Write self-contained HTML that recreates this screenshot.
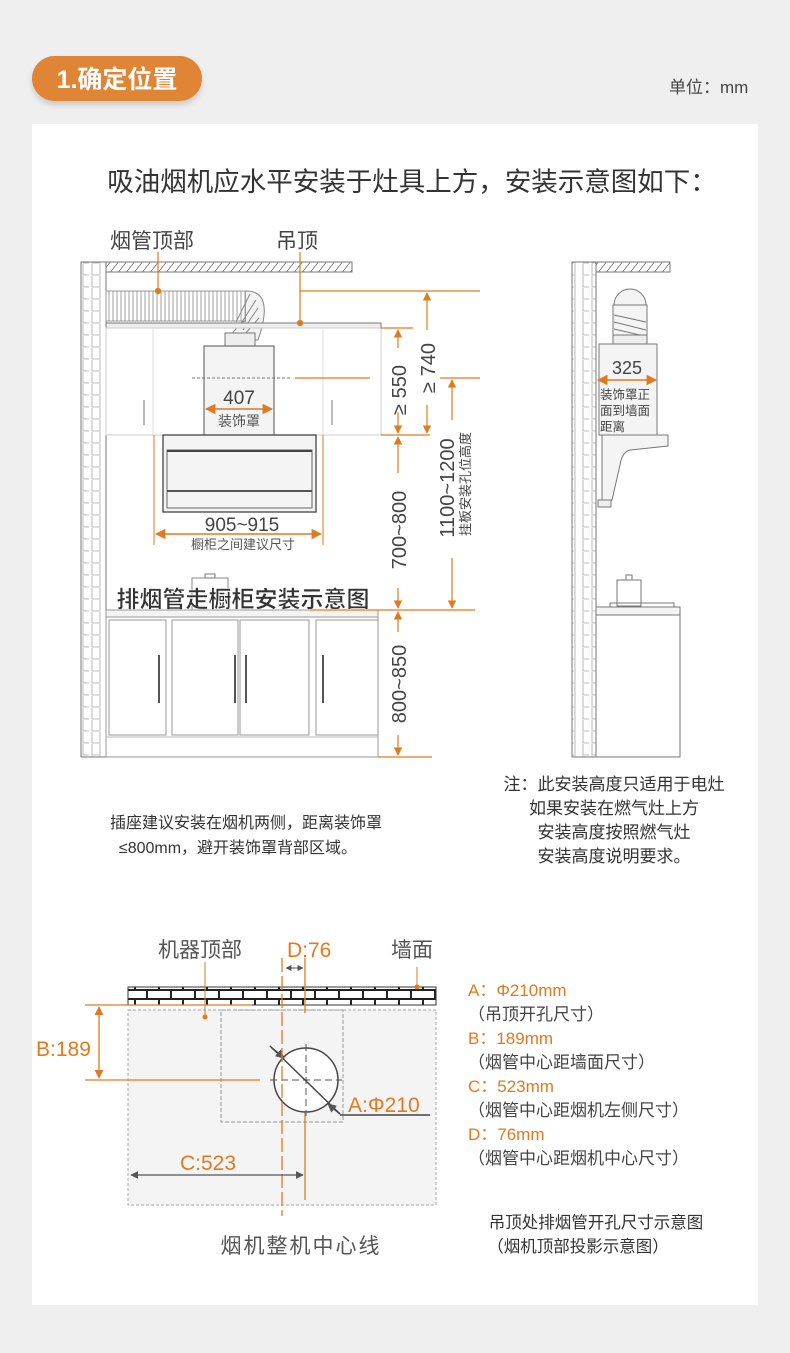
<!DOCTYPE html>
<html><head><meta charset="utf-8"><style>
body{margin:0;background:#efefef;}
svg{display:block;}
text{font-family:"Liberation Sans","Noto Sans CJK SC",sans-serif;}
</style></head><body>
<svg width="790" height="1353" viewBox="0 0 790 1353" xmlns="http://www.w3.org/2000/svg">
<defs>
<pattern id="brick" width="25" height="12" patternUnits="userSpaceOnUse">
<path d="M0 0V12M8 0V11H14M17 0V11H24M25 0V12" stroke="#a8a8a8" stroke-width="0.8" fill="none"/>
</pattern>
<pattern id="hatch" width="8" height="10" patternUnits="userSpaceOnUse">
<path d="M0 10L8 0" stroke="#777" stroke-width="0.8"/>
</pattern>
<pattern id="rib" width="4" height="30" patternUnits="userSpaceOnUse">
<path d="M1 0V30" stroke="#888" stroke-width="0.8"/>
</pattern>
<pattern id="bw" width="24" height="18" patternUnits="userSpaceOnUse">
<rect width="24" height="18" fill="#fff"/>
<path d="M0 0H24M0 9H24M0 18H24M3 0V9M15 9V18" stroke="#222" stroke-width="2"/>
</pattern>
<marker id="ao" viewBox="0 0 10 10" refX="9" refY="5" markerWidth="7" markerHeight="7" orient="auto-start-reverse"><path d="M0 0L10 5L0 10z" fill="#e07a1f"/></marker>
<marker id="ag" viewBox="0 0 10 10" refX="9" refY="5" markerWidth="6" markerHeight="6" orient="auto-start-reverse"><path d="M0 0L10 5L0 10z" fill="#555"/></marker>
<filter id="sh" x="-10%" y="-20%" width="120%" height="160%"><feDropShadow dx="0" dy="4" stdDeviation="3" flood-color="#000" flood-opacity="0.15"/></filter>
</defs>
<rect x="32" y="56" width="170" height="45" rx="22.5" fill="#e08434" filter="url(#sh)"/>
<text x="117" y="88" font-size="25" font-weight="bold" fill="#fff" text-anchor="middle">1.确定位置</text>
<text x="669" y="93" font-size="17" fill="#444">单位：mm</text>
<rect x="32" y="124" width="726" height="1181" fill="#fff"/>
<text x="412" y="191" font-size="26.5" fill="#333" text-anchor="middle">吸油烟机应水平安装于灶具上方，安装示意图如下：</text>

<g stroke="#777" fill="none" stroke-width="1">
<rect x="81" y="262" width="25" height="495" fill="url(#brick)"/>
<rect x="106" y="262" width="246" height="10" fill="url(#hatch)"/>
<rect x="106" y="291" width="140" height="30" fill="url(#rib)" stroke="#999"/>
<path d="M246 291 Q275 291 258 340 L228 340 Q240 321 246 321" fill="#f3f3f3" stroke="#888"/>
<path d="M250 294L236 322M256 300L240 325M258 308L243 330M259 318L245 334" stroke="#888"/>
<rect x="225" y="333" width="30" height="13" fill="#eee"/>
<rect x="106" y="323" width="275" height="5" fill="#eee"/>
<rect x="106" y="328" width="275" height="107" stroke="#ccc"/>
<line x1="153" y1="328" x2="153" y2="435" stroke="#ddd"/>
<line x1="323" y1="328" x2="323" y2="435" stroke="#ddd"/>
<line x1="144" y1="400" x2="144" y2="425" stroke="#bbb" stroke-width="2"/>
<line x1="332" y1="400" x2="332" y2="425" stroke="#bbb" stroke-width="2"/>
<rect x="204" y="346" width="70" height="89" fill="#f4f4f4" stroke="#555"/>
<rect x="163" y="435" width="153" height="77" fill="#f4f4f4" stroke="#444" stroke-width="1.3"/>
<rect x="167" y="450" width="145" height="58" stroke="#666"/>
<line x1="167" y1="451" x2="312" y2="451" stroke="#444" stroke-width="2"/>
<line x1="167" y1="491" x2="312" y2="491" stroke="#555" stroke-width="2"/>
<line x1="154" y1="435" x2="154" y2="545" stroke="#e07a1f"/>
<line x1="323" y1="435" x2="323" y2="545" stroke="#e07a1f"/>
<rect x="192" y="578" width="36" height="32" fill="#fff" stroke="#888"/>
<rect x="205" y="574" width="10" height="4"/>
<rect x="106" y="610" width="272" height="7" fill="#f4f4f4" stroke="#999"/>
<rect x="106" y="617" width="272" height="140" stroke="#999"/>
<rect x="109" y="620" width="57" height="115" stroke="#999"/>
<rect x="172" y="620" width="66" height="115" stroke="#999"/>
<rect x="240" y="620" width="69" height="115" stroke="#999"/>
<rect x="316" y="620" width="62" height="115" stroke="#999"/>
<line x1="106" y1="737" x2="378" y2="737" stroke="#bbb"/>
<g stroke="#555" stroke-width="2"><line x1="159" y1="655" x2="159" y2="703"/><line x1="235" y1="655" x2="235" y2="703"/><line x1="246" y1="655" x2="246" y2="703"/><line x1="323" y1="655" x2="323" y2="703"/></g>
</g>
<line x1="192" y1="378" x2="290" y2="378" stroke="#777" stroke-dasharray="3 2"/>
<text x="239" y="404" font-size="19" fill="#444" text-anchor="middle">407</text>
<text x="239" y="426" font-size="14" fill="#555" text-anchor="middle">装饰罩</text>
<line x1="206" y1="409" x2="272" y2="409" stroke="#e07a1f" stroke-width="1.5" marker-start="url(#ao)" marker-end="url(#ao)"/>
<text x="242" y="531" font-size="19" fill="#444" text-anchor="middle">905~915</text>
<line x1="156" y1="534" x2="321" y2="534" stroke="#e07a1f" stroke-width="1.5" marker-start="url(#ao)" marker-end="url(#ao)"/>
<text x="243" y="549" font-size="13" fill="#555" text-anchor="middle">橱柜之间建议尺寸</text>
<g stroke="#e07a1f" stroke-width="1.2" fill="none">
<line x1="158" y1="252" x2="158" y2="291"/><circle cx="158" cy="291" r="2.5" fill="#e07a1f"/>
<line x1="300" y1="252" x2="300" y2="323"/><circle cx="300" cy="323" r="2.5" fill="#e07a1f"/>
<line x1="300" y1="291" x2="480" y2="291"/>
<line x1="381" y1="328" x2="413" y2="328"/>
<line x1="295" y1="378" x2="370" y2="378"/>
<line x1="440" y1="378" x2="480" y2="378"/>
<line x1="381" y1="435" x2="430" y2="435"/>
<line x1="310" y1="610" x2="475" y2="610"/>
<line x1="378" y1="757" x2="432" y2="757"/>
<line x1="398" y1="330" x2="398" y2="348" marker-start="url(#ao)"/>
<line x1="398" y1="412" x2="398" y2="433" marker-end="url(#ao)"/>
<line x1="427" y1="293" x2="427" y2="330" marker-start="url(#ao)"/>
<line x1="427" y1="405" x2="427" y2="433" marker-end="url(#ao)"/>
<line x1="398" y1="437" x2="398" y2="473" marker-start="url(#ao)"/>
<line x1="398" y1="588" x2="398" y2="608" marker-end="url(#ao)"/>
<line x1="452" y1="380" x2="452" y2="420" marker-start="url(#ao)"/>
<line x1="452" y1="558" x2="452" y2="608" marker-end="url(#ao)"/>
<line x1="398" y1="612" x2="398" y2="632" marker-start="url(#ao)"/>
<line x1="398" y1="735" x2="398" y2="755" marker-end="url(#ao)"/>
</g>
<g fill="#444" font-size="20">
<text transform="translate(406,390) rotate(-90)" text-anchor="middle">≥ 550</text>
<text transform="translate(435,368) rotate(-90)" text-anchor="middle">≥ 740</text>
<text transform="translate(406,530) rotate(-90)" text-anchor="middle">700~800</text>
<text transform="translate(406,684) rotate(-90)" text-anchor="middle">800~850</text>
<text transform="translate(454,488) rotate(-90)" text-anchor="middle">1100~1200</text>
<text transform="translate(470,484) rotate(-90)" text-anchor="middle" font-size="13">挂板安装孔位高度</text>
</g>
<text x="110" y="248" font-size="21" fill="#444">烟管顶部</text>
<text x="276" y="248" font-size="21" fill="#444">吊顶</text>
<text x="243" y="607" font-size="23" font-weight="bold" fill="#333" text-anchor="middle" stroke="#fff" stroke-width="0.5">排烟管走橱柜安装示意图</text>

<g stroke="#777" fill="none" stroke-width="1">
<rect x="572" y="262" width="24" height="495" fill="url(#brick)"/>
<rect x="596" y="262" width="74" height="10" fill="url(#hatch)"/>
<circle cx="630" cy="305" r="16" fill="#f4f4f4"/>
<rect x="613" y="305" width="34" height="30" fill="#f4f4f4"/>
<path d="M614 315L646 322M614 322L646 330M614 329L640 335"/>
<rect x="613" y="335" width="34" height="9" fill="#eee"/>
<rect x="599" y="344" width="58" height="91" fill="#f4f4f4"/>
<path d="M599 435H668V446L630 450Q622 452 620 465L612 500H602V435" fill="#f4f4f4"/>
<rect x="598" y="500" width="13" height="7" fill="#eee"/>
<rect x="617" y="580" width="24" height="26" fill="#fff"/>
<rect x="626" y="575" width="6" height="5"/>
<rect x="610" y="603" width="64" height="4"/>
<rect x="596" y="607" width="84" height="8" fill="#f4f4f4"/>
<rect x="596" y="615" width="84" height="142"/>
</g>
<text x="627" y="374" font-size="18" fill="#444" text-anchor="middle">325</text>
<line x1="598" y1="380" x2="656" y2="380" stroke="#e07a1f" stroke-width="1.5" marker-start="url(#ao)" marker-end="url(#ao)"/>
<g font-size="12.5" fill="#444"><text x="600" y="399">装饰罩正</text><text x="600" y="415">面到墙面</text><text x="600" y="431">距离</text></g>

<g font-size="17" fill="#333" text-anchor="middle">
<text x="614" y="790">注：此安装高度只适用于电灶</text>
<text x="614" y="814">如果安装在燃气灶上方</text>
<text x="614" y="838">安装高度按照燃气灶</text>
<text x="614" y="862">安装高度说明要求。</text>
</g>
<g font-size="16" fill="#333" text-anchor="middle">
<text x="246" y="828">插座建议安装在烟机两侧，距离装饰罩</text>
<text x="238" y="853">≤800mm，避开装饰罩背部区域。</text>
</g>

<rect x="128" y="987" width="308" height="18" fill="url(#bw)" stroke="#333"/>
<rect x="128" y="1010" width="308" height="195" fill="#f4f4f4" stroke="#aaa" stroke-dasharray="3 2"/>
<rect x="221" y="1010" width="122" height="112" fill="none" stroke="#999" stroke-dasharray="4 2"/>
<circle cx="306" cy="1080" r="32" fill="#fff" stroke="#444" stroke-width="1.5"/>
<path d="M270 1080H342M306 1044V1116" stroke="#555" stroke-dasharray="7 4"/>
<line x1="270" y1="1046" x2="340" y2="1114" stroke="#444" stroke-width="1.5"/>
<line x1="272" y1="1048" x2="284" y2="1058" stroke="#444" stroke-width="1.5" marker-end="url(#ag)"/>
<line x1="340" y1="1114" x2="328" y2="1104" stroke="#444" stroke-width="1.5" marker-end="url(#ag)"/>
<line x1="340" y1="1115" x2="430" y2="1115" stroke="#444" stroke-width="1.5"/>
<line x1="282" y1="958" x2="282" y2="1216" stroke="#e07a1f" stroke-width="1.3" stroke-dasharray="14 4"/>
<line x1="305" y1="958" x2="305" y2="1013" stroke="#e07a1f" stroke-width="1.3"/>
<line x1="305" y1="1113" x2="305" y2="1200" stroke="#e07a1f" stroke-width="1.3"/>
<line x1="286" y1="968" x2="303" y2="968" stroke="#555" marker-start="url(#ag)" marker-end="url(#ag)"/>
<line x1="85" y1="1005" x2="252" y2="1005" stroke="#e07a1f" stroke-width="1.3"/>
<line x1="85" y1="1080" x2="260" y2="1080" stroke="#e07a1f" stroke-width="1.3"/>
<line x1="99" y1="1007" x2="99" y2="1078" stroke="#e07a1f" stroke-width="1.3" marker-start="url(#ao)" marker-end="url(#ao)"/>
<line x1="131" y1="1175" x2="303" y2="1175" stroke="#555" stroke-width="1.3" marker-start="url(#ag)" marker-end="url(#ag)"/>
<line x1="205" y1="962" x2="205" y2="1017" stroke="#e07a1f"/><circle cx="205" cy="1017" r="2.5" fill="#e07a1f"/>
<line x1="417" y1="967" x2="417" y2="987" stroke="#e07a1f"/><circle cx="417" cy="987" r="2.5" fill="#e07a1f"/>
<g font-size="21" fill="#e07a1f">
<text x="287" y="957">D:76</text>
<text x="36" y="1056">B:189</text>
<text x="348" y="1112">A:Φ210</text>
<text x="180" y="1170">C:523</text>
</g>
<g font-size="21" fill="#555">
<text x="158" y="957">机器顶部</text>
<text x="391" y="957">墙面</text>
<text x="301" y="1253" text-anchor="middle" letter-spacing="2">烟机整机中心线</text>
</g>
<g font-size="17">
<text x="468" y="996" fill="#e07a1f">A：Φ210mm</text>
<text x="468" y="1020" fill="#444">（吊顶开孔尺寸）</text>
<text x="468" y="1044" fill="#e07a1f">B：189mm</text>
<text x="468" y="1068" fill="#444">（烟管中心距墙面尺寸）</text>
<text x="468" y="1092" fill="#e07a1f">C：523mm</text>
<text x="468" y="1116" fill="#444">（烟管中心距烟机左侧尺寸）</text>
<text x="468" y="1140" fill="#e07a1f">D：76mm</text>
<text x="468" y="1164" fill="#444">（烟管中心距烟机中心尺寸）</text>
</g>
<g font-size="16.5" fill="#333" text-anchor="middle">
<text x="596" y="1228">吊顶处排烟管开孔尺寸示意图</text>
<text x="578" y="1252">（烟机顶部投影示意图）</text>
</g>
</svg>
</body></html>
